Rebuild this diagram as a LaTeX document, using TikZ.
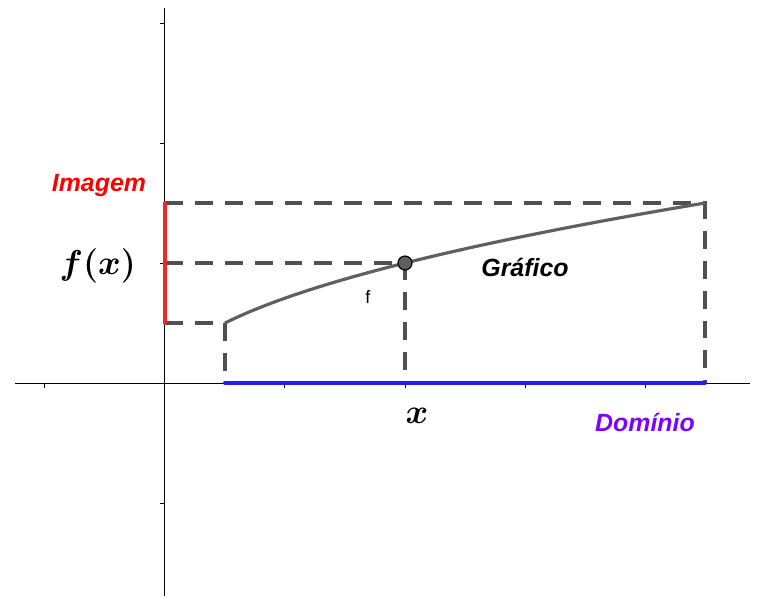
\documentclass[tikz,border=0pt]{standalone}
\usepackage{amsmath}
\usepackage{fontspec}
\newfontfamily\labelfont{Liberation Sans}
\definecolor{guide}{HTML}{505050}
\definecolor{curve}{HTML}{606060}
\definecolor{imgred}{HTML}{F02828}
\definecolor{dompurple}{HTML}{7F00FF}
\definecolor{domblue}{HTML}{2020E6}
\tikzset{
  axis/.style={black, line width=0.5pt},
  guideline/.style={guide, line width=1.7pt, dash pattern=on 9pt off 6pt},
  tag/.style={font=\labelfont\fontsize{12.5}{14}\selectfont\bfseries\itshape},
}

\begin{document}
\begin{tikzpicture}[x=2.1167cm, y=2.1167cm]
    \useasboundingbox (-1.375,-1.775) rectangle (5,3.192);

    % axes and ticks
    \draw[axis] (-1.25,0) -- (4.875,0);
    \draw[axis] (0,-1.775) -- (0,3.125);
    \foreach \t in {-1,1,2,3,4} \draw[axis] (\t,0) -- (\t,-0.04);
    \foreach \t in {-1,1,2,3} \draw[axis] (0,\t) -- (-0.04,\t);

    % key points of f(x) = sqrt(x/2)
    \coordinate (A) at (0.5,0.5);
    \coordinate (P) at (2,1);
    \coordinate (B) at (4.5,1.5);

    % guide lines
    \draw[guideline] (0,1.5) -- (B) -- (4.5,0);
    \draw[guideline] (0,1) -- (P) -- (2,0);
    \draw[guideline] (0,0.5) -- (A) -- (0.5,0);

    % image and domain
    \draw[imgred, line width=2pt, line cap=round] (0,0.5) -- (0,1.5);
    \draw[domblue, line width=2pt, line cap=round] (0.5,0) -- (4.5,0);

    % graph
    \draw[curve, line width=1.6pt, domain=0.5:4.5, samples=80] plot (\x, {sqrt(\x/2)});
    \node[circle, draw=black, fill=curve, line width=0.6pt, inner sep=0pt, minimum size=7pt] (pt) at (P) {};

    % labels
    \node[tag, red] (imagem) at (-0.55,1.65) {Imagem};
    \node (fx) at (-0.56,0.98) {\fontsize{16}{18}\selectfont$\boldsymbol{f(x)}$};
    \node (xlab) at (2.1,-0.27) {\fontsize{16}{18}\selectfont$\boldsymbol{x}$};
    \node[tag, dompurple] (dominio) at (4.0,-0.33) {Domínio};
    \node[tag, black] (grafico) at (3.0,0.96) {Gráfico};
    \node[font=\labelfont\fontsize{9}{10}\selectfont] (fname) at (1.69,0.72) {f};
\end{tikzpicture}
\end{document}
